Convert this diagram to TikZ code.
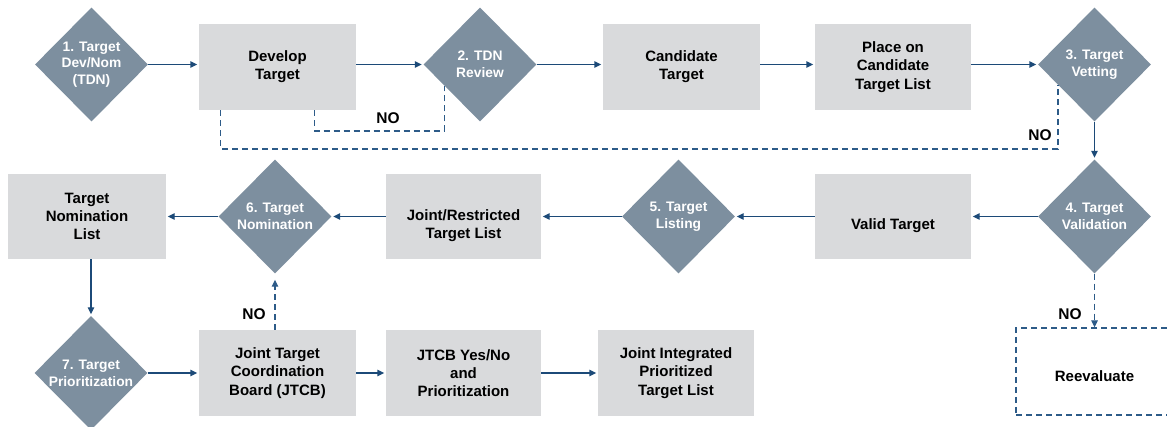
\documentclass[tikz,border=0pt]{standalone}
\usepackage{fontspec}
\setmainfont{Liberation Sans}
\usetikzlibrary{shapes.geometric,arrows.meta,calc}
\definecolor{slate}{HTML}{7D8F9F}
\definecolor{panel}{HTML}{D9DADC}
\definecolor{navy}{HTML}{1C4A78}
\definecolor{dashblue}{HTML}{2D5B88}
\tikzset{
  decision/.style={diamond, fill=slate, draw=none, minimum width=113pt,
    minimum height=114pt, inner sep=0pt, align=center, text=white,
    font=\fontsize{13.8}{16.7}\selectfont\bfseries},
  stepbox/.style={rectangle, fill=panel, draw=none, minimum width=157pt,
    minimum height=86pt, inner sep=0pt, align=center, text=black,
    font=\fontsize{15}{18.3}\selectfont\bfseries},
  boxtext/.style={align=center, text=black, inner sep=0pt,
    font=\fontsize{15}{18.3}\selectfont\bfseries},
  flow/.style={draw=navy, line width=1.4pt, shorten >=1.5pt,
    -{Triangle[length=7pt,width=6.5pt]}},
  noflow/.style={draw=dashblue, line width=1.3pt, dash pattern=on 6pt off 4pt},
  nolabel/.style={font=\fontsize{15.5}{18}\selectfont\bfseries, inner sep=0pt},
}
\begin{document}
\begin{tikzpicture}[x=1pt,y=-1pt]
  \fill[white] (0,0) rectangle (1167,427);
  \clip (0,0) rectangle (1167,427);

  % top row
  \node[decision] (d1) at (91.5,64.5) {1. Target\\Dev/Nom\\(TDN)};
  \node[stepbox] (dev) at (277.5,67) {Develop\\Target};
  \node[decision] (d2) at (480,64.5) {2. TDN\\Review};
  \node[stepbox] (cand) at (681.5,67) {Candidate\\Target};
  \node[stepbox, minimum width=156pt] (place) at (893,67) {Place on\\Candidate\\Target List};
  \node[decision] (d3) at (1094.5,64.5) {3. Target\\Vetting};

  % middle row
  \node[stepbox, minimum width=158pt, minimum height=85pt] (tnl) at (87,216.5) {Target\\Nomination\\List};
  \node[decision] (d6) at (275,216.5) {6. Target\\Nomination};
  \node[stepbox, minimum width=155pt, minimum height=85pt,
    label={[boxtext,name=jrttxt,yshift=-9pt]center:{Joint/Restricted\\Target List}}] (jrt) at (463.5,216.5) {};
  \node[decision] (d5) at (678.5,216.5) {5. Target\\Listing};
  \node[stepbox, minimum width=156pt, minimum height=85pt,
    label={[boxtext,name=validtxt,yshift=-9pt]center:Valid Target}] (valid) at (893,216.5) {};
  \node[decision] (d4) at (1094.5,216.5) {4. Target\\Validation};

  % bottom row
  \node[decision] (d7) at (91,373) {7. Target\\Prioritization};
  \node[stepbox] (jtcb) at (277.5,373) {Joint Target\\Coordination\\Board (JTCB)};
  \node[stepbox, minimum width=155pt] (yesno) at (463.5,373) {JTCB Yes/No\\and\\Prioritization};
  \node[stepbox, minimum width=156pt] (jipt) at (676,373) {Joint Integrated\\Prioritized\\Target List};
  \node[rectangle, draw=dashblue, line width=1.3pt, dash pattern=on 6pt off 4pt,
    minimum width=157pt, minimum height=87pt,
    label={[boxtext,name=reevaltxt,yshift=-5pt]center:Reevaluate}] (reeval) at (1094.5,371.5) {};

  % main flow, kept level with the decision points
  \draw[flow] (d1.east) -- (d1.east -| dev.west);
  \draw[flow] (dev.east |- d2.west) -- (d2.west);
  \draw[flow] (d2.east) -- (d2.east -| cand.west);
  \draw[flow] (cand.east |- d2.east) -- (place.west |- d2.east);
  \draw[flow] (place.east |- d3.west) -- (d3.west);
  \draw[flow] (d3.south) -- (d4.north);
  \draw[flow] (d4.west) -- (d4.west -| valid.east);
  \draw[flow] (valid.west |- d5.east) -- (d5.east);
  \draw[flow] (d5.west) -- (d5.west -| jrt.east);
  \draw[flow] (jrt.west |- d6.east) -- (d6.east);
  \draw[flow] (d6.west) -- (d6.west -| tnl.east);
  \draw[flow] (tnl.south -| d7.north) -- (d7.north);
  \draw[flow] (d7.east) -- (d7.east -| jtcb.west);
  \draw[flow] (jtcb.east) -- (yesno.west);
  \draw[flow] (yesno.east) -- (jipt.west);

  % rejection loops
  \coordinate (devA) at ($(dev.south west)!0.735!(dev.south east)$);
  \coordinate (d2in) at ($(d2.west)!0.368!(d2.south)$);
  \draw[noflow] (devA) -- (devA |- 0,131) -- (d2in |- 0,131) -- (d2in);
  \node[nolabel] (no1) at (388,118.5) {NO};

  \coordinate (devB) at ($(dev.south west)!0.14!(dev.south east)$);
  \coordinate (d3in) at ($(d3.west)!0.354!(d3.south)$);
  \draw[noflow] (devB) -- (devB |- 0,149) -- (d3in |- 0,149) -- (d3in);
  \node[nolabel] (no2) at (1040,135.5) {NO};

  \draw[noflow, -{Triangle[length=7pt,width=6.5pt]}] (d4.south) -- (reeval.north);
  \node[nolabel] (no3) at (1070,314) {NO};

  \draw[noflow, shorten >=6pt, -{Triangle[length=7pt,width=6.5pt]}]
    (jtcb.north -| d6.south) -- (d6.south);
  \node[nolabel] (no4) at (254,314) {NO};
\end{tikzpicture}
\end{document}
